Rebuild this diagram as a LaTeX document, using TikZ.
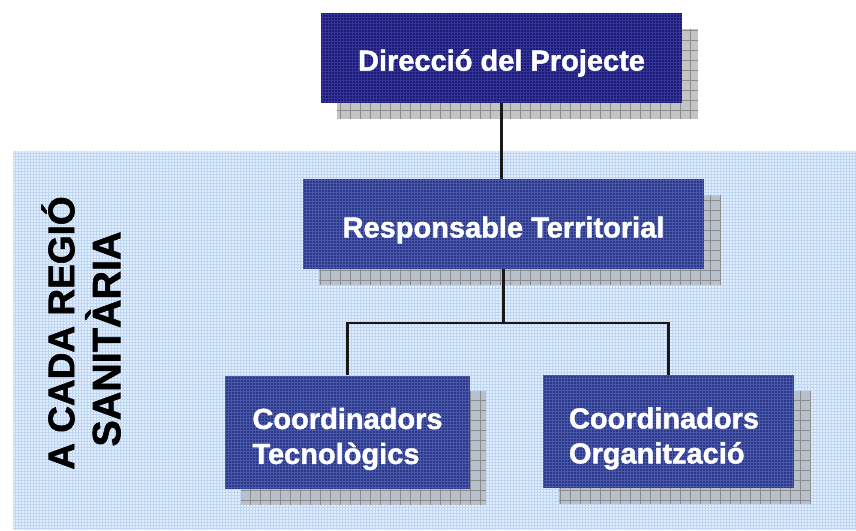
\documentclass[tikz,border=0pt]{standalone}
\usepackage{fontspec}
\setmainfont{Liberation Sans}[BoldFeatures={FakeBold=1.5}]
\definecolor{navy}{HTML}{1B1B74}
\definecolor{navygrid}{HTML}{34349A}
\definecolor{midblue}{HTML}{2B388A}
\definecolor{midgrid}{HTML}{4A58AA}
\definecolor{bgblue}{HTML}{E2EEFC}
\definecolor{bggrid}{HTML}{BFD6F3}
\definecolor{shadowA}{HTML}{C4C4C4}
\definecolor{shadowB}{HTML}{B8C0CC}
\definecolor{shadowgrid}{HTML}{8C8C8C}
\newcommand\shifttxt[3]{\raisebox{#2}[\height][\depth]{\rlap{\kern#1\relax#3}\phantom{#3}}}
\pgfdeclarelayer{back}
\pgfdeclarelayer{shade}
\pgfsetlayers{back,shade,main}
\begin{document}
\begin{tikzpicture}[x=1pt,y=-1pt,
  box/.style 2 args={draw=none, fill=#1, text=white,
    font=\fontsize{29}{35}\selectfont\bfseries, inner sep=0pt, align=left,
    path picture={\draw[#2, step=3pt, line width=0.5pt]
      (path picture bounding box.south west) grid (path picture bounding box.north east);}},
  conn/.style={draw=black!90, line width=2.2pt},
  regionlabel/.style={rotate=90, align=center, inner sep=0pt,
    font=\fontsize{37}{46}\selectfont\bfseries}
]
\useasboundingbox (0,0) rectangle (856,530);

\begin{pgfonlayer}{back}
  \fill[bgblue] (13,151) rectangle (856,530);
  \draw[bggrid, step=3pt, line width=0.4pt] (13,151) grid (856,530);
\end{pgfonlayer}

\node[box={navy}{navygrid}, minimum width=361pt, minimum height=90pt] (top) at (501.5,58)
  {\shifttxt{0pt}{-5pt}{Direcció del Projecte}};
\node[box={midblue}{midgrid}, minimum width=401pt, minimum height=90pt] (mid) at (503.5,224)
  {\shifttxt{0pt}{-6pt}{Responsable Territorial}};
\node[box={midblue}{midgrid}, minimum width=245pt, minimum height=113pt] (bl) at (347.5,432)
  {\shifttxt{0pt}{-7pt}{Coordinadors}\\\shifttxt{0pt}{-7pt}{Tecnològics}};
\node[box={midblue}{midgrid}, minimum width=251pt, minimum height=113pt] (br) at (668.5,431.5)
  {\shifttxt{-4.5pt}{-7pt}{Coordinadors}\\\shifttxt{-4.5pt}{-7pt}{Organització}};

\node[regionlabel] (region) at (81,333)
  {A CADA REGIÓ\\\shifttxt{-6pt}{0pt}{\fontsize{39.5}{46}\selectfont SANITÀRIA}};

\begin{pgfonlayer}{shade}
  \foreach \n/\c in {top/shadowA, mid/shadowB, bl/shadowB, br/shadowB} {
    \fill[\c] ([shift={(16,16)}]\n.north west) rectangle ([shift={(16,16)}]\n.south east);
    \draw[shadowgrid, step=10pt, line width=0.5pt] ([shift={(16,16)}]\n.north west) grid ([shift={(16,16)}]\n.south east);
  }
\end{pgfonlayer}

\path (mid.south) ++(0,54) coordinate (j);
\draw[conn] (top.south) -- (top.south |- mid.north);
\draw[conn] (mid.south) -- (j);
\draw[conn] (bl.north) |- (j) -| (br.north);
\end{tikzpicture}
\end{document}
